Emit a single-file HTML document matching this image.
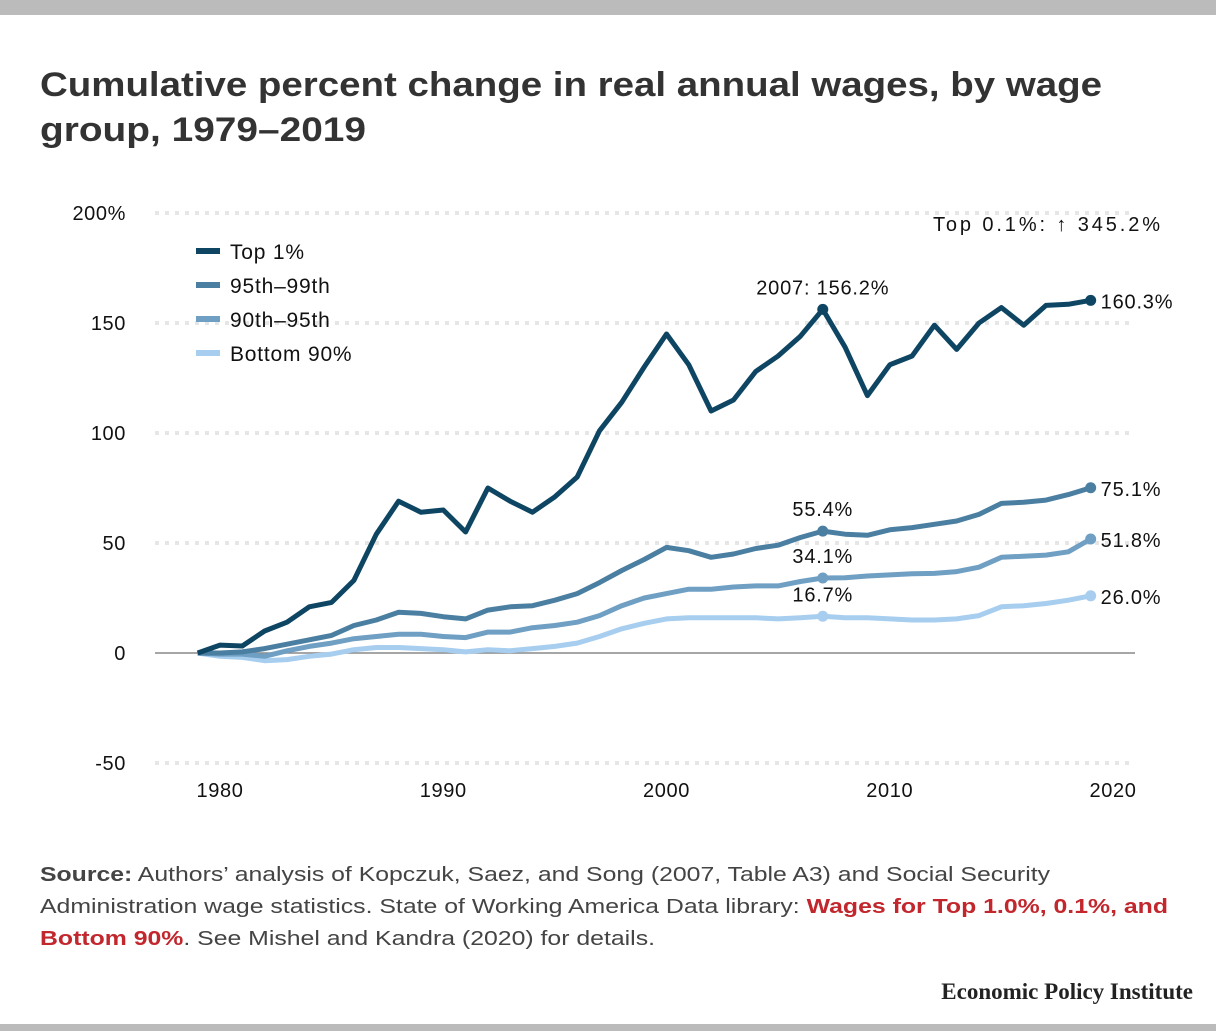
<!DOCTYPE html>
<html><head><meta charset="utf-8"><style>
body{margin:0;background:#fff;}
svg{display:block;font-family:"Liberation Sans",sans-serif;}
</style></head><body>
<svg id="chart" width="1216" height="1031" viewBox="0 0 1216 1031">
<rect x="0" y="0" width="1216" height="15" fill="#bbbbbb"/>
<rect x="0" y="1024" width="1216" height="7" fill="#bbbbbb"/>
<text font-weight="bold" font-size="34" fill="#333">
<tspan x="40" y="96" textLength="1062" lengthAdjust="spacingAndGlyphs">Cumulative percent change in real annual wages, by wage</tspan>
<tspan x="40" y="141" textLength="326" lengthAdjust="spacingAndGlyphs">group, 1979–2019</tspan></text>
<g id="grid"></g><g id="axes"></g><g id="lines"></g><g id="labels"></g>
<g font-size="21" fill="#111" letter-spacing="0.8">
<g><rect x="196" y="248" width="24" height="6" fill="#0d4563"/><text x="230" y="259">Top 1%</text></g>
<g><rect x="196" y="282" width="24" height="6" fill="#4b7fa2"/><text x="230" y="293">95th–99th</text></g>
<g><rect x="196" y="316" width="24" height="6" fill="#6f9fc3"/><text x="230" y="327">90th–95th</text></g>
<g><rect x="196" y="350" width="24" height="6" fill="#a7cdef"/><text x="230" y="361">Bottom 90%</text></g>
</g>
<text x="933" y="231" font-size="20" textLength="227" lengthAdjust="spacing" fill="#111">Top 0.1%:  ↑  345.2%</text>
<g font-size="20" fill="#444">
<text x="40" y="881" textLength="1010" lengthAdjust="spacingAndGlyphs"><tspan font-weight="bold">Source:</tspan> Authors’ analysis of Kopczuk, Saez, and Song (2007, Table A3) and Social Security</text>
<text x="40" y="913" textLength="1128" lengthAdjust="spacingAndGlyphs">Administration wage statistics. State of Working America Data library: <tspan font-weight="bold" fill="#c1272d">Wages for Top 1.0%, 0.1%, and</tspan></text>
<text x="40" y="945" textLength="615" lengthAdjust="spacingAndGlyphs"><tspan font-weight="bold" fill="#c1272d">Bottom 90%</tspan>. See Mishel and Kandra (2020) for details.</text>
</g>
<text x="1193" y="999" font-family="Liberation Serif,serif" font-weight="bold" font-size="23" text-anchor="end" fill="#222">Economic Policy Institute</text>
</svg>
<script>
const years=[];for(let y=1979;y<=2019;y++)years.push(y);
const top1=[0,3.6,3.2,10,14,21,23,33,54,69,64,65,55,75,69,64,71,80,101,114,130,145,131,110,115,128,135,144,156.2,139,117,131,135,149,138,150,157,149,158,158.5,160.3];
const p95_99=[0,0,0.5,2,4,6,8,12.5,15,18.5,18,16.5,15.5,19.5,21,21.5,24,27,32,37.5,42.5,48,46.5,43.5,45,47.5,49,52.5,55.4,54,53.5,56,57,58.5,60,63,68,68.5,69.5,72,75.1];
const p90_95=[0,-0.5,-0.5,-1.5,1,3,4.5,6.5,7.5,8.5,8.5,7.5,7,9.5,9.5,11.5,12.5,14,17,21.5,25,27,29,29,30,30.5,30.5,32.5,34.1,34.2,35,35.5,36,36.2,37,39,43.5,44,44.5,46,51.8];
const bottom90=[0,-1.5,-2,-3.5,-3,-1.5,-0.5,1.5,2.5,2.5,2,1.5,0.5,1.5,1,2,3,4.5,7.5,11,13.5,15.5,16,16,16,16,15.5,16,16.7,16,16,15.5,15,15,15.5,17,21,21.5,22.5,24,26];
const yTicks=[200,150,100,50,0,-50];
const yTickLabels=["200%","150","100","50","0","-50"];
const xTicks=[1980,1990,2000,2010,2020];
const NS="http://www.w3.org/2000/svg";
const X=v=>220+(v-1980)*22.325;
const Y=v=>653-v*2.2;
function mk(tag,attrs,parent){const e=document.createElementNS(NS,tag);for(const k in attrs)e.setAttribute(k,attrs[k]);document.getElementById(parent).appendChild(e);return e;}
yTicks.forEach((t,i)=>{
  const g=mk('line',{x1:155,x2:1135,y1:Y(t),y2:Y(t),stroke:t===0?'#888':'#e6e6e6','stroke-width':t===0?1.5:4,'stroke-dasharray':t===0?'none':'4 6'},'grid');
  
  
  const l=mk('text',{x:126,y:Y(t)+7,'text-anchor':'end','font-size':20,fill:'#111','letter-spacing':0.6},'axes');l.textContent=yTickLabels[i];
  
  
});
xTicks.forEach(t=>{
  const l=mk('text',{x:X(t),y:797,'text-anchor':'middle','font-size':20,fill:'#111','letter-spacing':0.6},'axes');l.textContent=t;
  
  
});
const series=[[bottom90,'#a7cdef','bottom-90-line'],[p90_95,'#6f9fc3','p90-95-line'],[p95_99,'#4b7fa2','p95-99-line'],[top1,'#0d4563','top-1-line']];
series.forEach(([d,c,n])=>{
  const p=mk('path',{d:d.map((v,i)=>(i?'L':'M')+X(years[i]).toFixed(1)+','+Y(v).toFixed(1)).join(''),fill:'none',stroke:c,'stroke-width':5,'stroke-linejoin':'round'},'lines');
  
  
  [28,40].forEach(i=>{const m=mk('circle',{cx:X(years[i]),cy:Y(d[i]),r:5.5,fill:c},'lines');
    
    });
  const e=mk('text',{x:X(2019)+10,y:Y(d[40])+8,'font-size':20,fill:'#111','letter-spacing':0.8},'labels');e.textContent=d[40].toFixed(1)+'%';
  
  
  const k=mk('text',{x:X(2007),y:Y(d[28])-15,'text-anchor':'middle','font-size':20,fill:'#111','letter-spacing':0.8},'labels');
  k.textContent=(n==='top-1-line'?'2007: ':'')+d[28].toFixed(1)+'%';
  
  
});
</script>
</body></html>
